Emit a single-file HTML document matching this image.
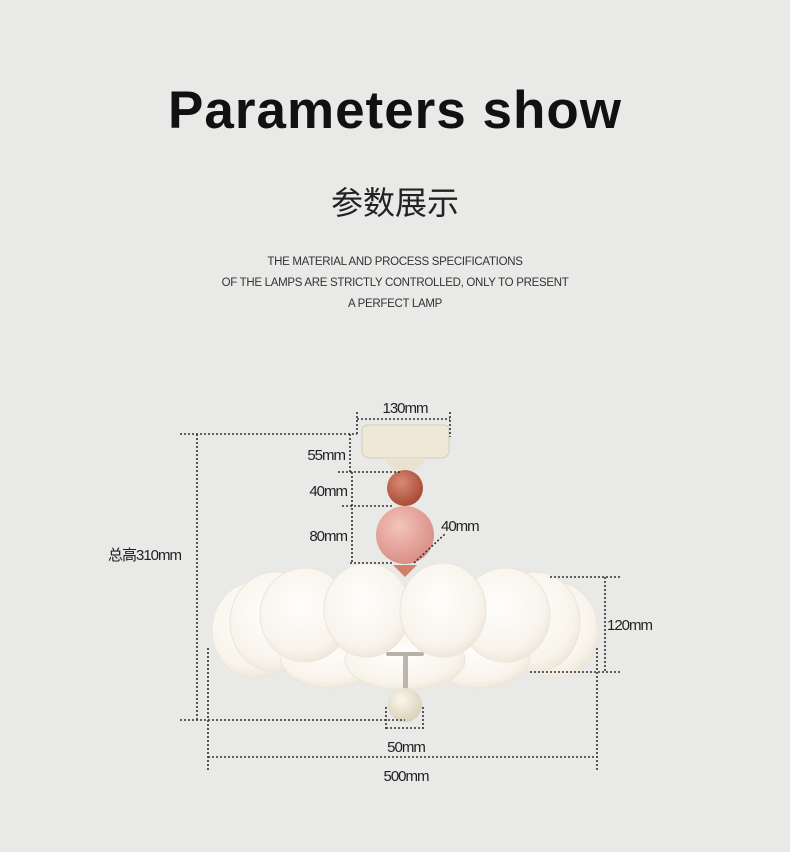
<!DOCTYPE html>
<html><head><meta charset="utf-8"><style>
body{margin:0;width:790px;height:852px;background:#e9e9e8;overflow:hidden;position:relative;font-family:"Liberation Sans","Noto Sans CJK SC",sans-serif}
.t{position:absolute;left:0;width:790px;text-align:center;color:#111}
</style></head><body>
<div class="t" style="top:80px;font-size:53px;font-weight:bold;letter-spacing:1px;">Parameters show</div>
<div class="t" style="top:178px;font-size:32px;color:#222">参数展示</div>
<div class="t" style="top:252px;font-size:11.5px;line-height:21px;color:#333;letter-spacing:-0.3px">THE MATERIAL AND PROCESS SPECIFICATIONS<br>OF THE LAMPS ARE STRICTLY CONTROLLED, ONLY TO PRESENT<br>A PERFECT LAMP</div>
<svg width="790" height="852" style="position:absolute;left:0;top:0">
<defs>
<radialGradient id="w" cx="45%" cy="40%" r="65%"><stop offset="0" stop-color="#fffefb"/><stop offset="0.75" stop-color="#f8f4ec"/><stop offset="1" stop-color="#ebe3d4"/></radialGradient>
<radialGradient id="o" cx="40%" cy="35%" r="65%"><stop offset="0" stop-color="#d98a74"/><stop offset="1" stop-color="#a94a36"/></radialGradient>
<radialGradient id="p" cx="40%" cy="35%" r="65%"><stop offset="0" stop-color="#f4c4bb"/><stop offset="1" stop-color="#d98f86"/></radialGradient>
<radialGradient id="c" cx="40%" cy="35%" r="70%"><stop offset="0" stop-color="#fbf7ea"/><stop offset="1" stop-color="#d8ceb6"/></radialGradient>
</defs>
<g fill="url(#w)" stroke="#ece5d8" stroke-width="1">
<ellipse cx="255" cy="630" rx="43" ry="48"/><ellipse cx="555" cy="630" rx="43" ry="48"/>
<ellipse cx="275" cy="622" rx="45" ry="50"/><ellipse cx="535" cy="622" rx="45" ry="50"/>
<ellipse cx="330" cy="655" rx="50" ry="33"/><ellipse cx="480" cy="655" rx="50" ry="33"/>
<ellipse cx="405" cy="660" rx="60" ry="30"/>
<ellipse cx="305" cy="615" rx="45" ry="47"/><ellipse cx="505" cy="615" rx="45" ry="47"/>
<ellipse cx="367" cy="610" rx="43" ry="47"/><ellipse cx="443" cy="610" rx="43" ry="47"/>
</g>
<path d="M362 430 Q362 424 372 425 L440 425 Q450 424 449 432 L449 450 Q449 458 440 458 L372 458 Q362 458 362 450 Z" fill="#efe8d8" stroke="#d6cdb8"/>
<path d="M385 458 L425 458 Q420 472 405 472 Q390 472 385 458Z" fill="#e9e2d1"/>
<circle cx="405" cy="488" r="18" fill="url(#o)"/>
<ellipse cx="405" cy="535" rx="29" ry="29" fill="url(#p)"/>
<path d="M393 565 L417 565 L405 577Z" fill="#d2806a"/>
<rect x="403" y="654" width="5" height="36" fill="#bcb6ab"/>
<rect x="386" y="652" width="38" height="4" rx="2" fill="#b8b2a6"/>
<circle cx="405" cy="705" r="17" fill="url(#c)"/>
<g stroke="#333" stroke-width="1.6" stroke-dasharray="2 2" fill="none">
<path d="M357 419H450M357 412V435M450 412V437"/>
<path d="M180 434H357M197 434V721M180 720H405"/>
<path d="M350 434V472M338 472H400M352 472V563M342 506H392M350 563H392"/>
<path d="M414 563L446 533"/>
<path d="M550 577H620M530 672H620M605 577V672"/>
<path d="M208 757H597M208 648V770M597 648V770"/>
<path d="M386 707V730M423 707V730M386 728H423"/>
</g>
<g font-size="15" fill="#222" letter-spacing="-1" font-family="Liberation Sans, Noto Sans CJK SC, sans-serif">
<text x="405" y="413" text-anchor="middle">130mm</text>
<text x="345" y="460" text-anchor="end">55mm</text>
<text x="347" y="496" text-anchor="end">40mm</text>
<text x="347" y="541" text-anchor="end">80mm</text>
<text x="441" y="531">40mm</text>
<text x="108" y="560">总高310mm</text>
<text x="607" y="630">120mm</text>
<text x="406" y="752" text-anchor="middle">50mm</text>
<text x="406" y="781" text-anchor="middle">500mm</text>
</g>
</svg>
</body></html>
